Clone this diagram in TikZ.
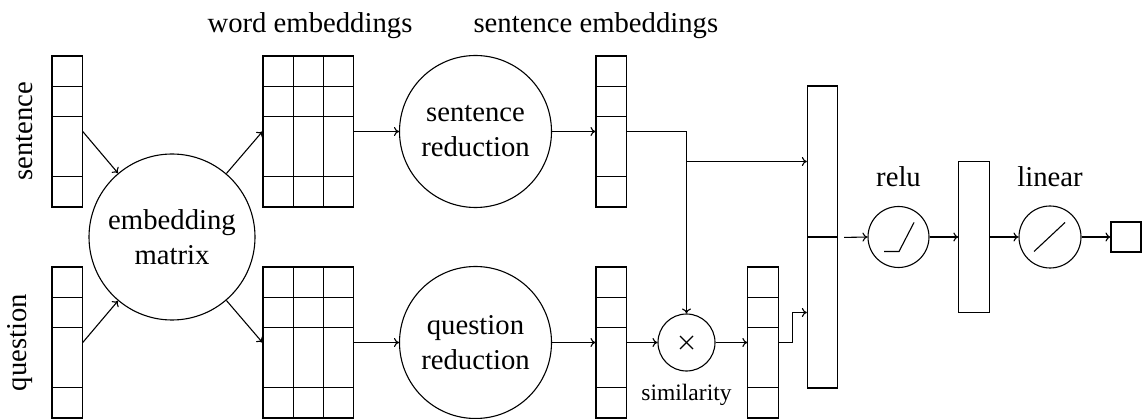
\documentclass[tikz,border=0pt]{standalone}
\usepackage{fontspec}
\setmainfont{Liberation Serif}
\usetikzlibrary{calc,arrows.meta}
\newcommand\mainsz{\fontsize{28.7}{35}\selectfont}
\newcommand\smallsz{\fontsize{23.5}{28}\selectfont}
\def\U{30.2pt}
\newcommand\rowlines{\foreach \k in {1,2,4}{\draw ([yshift={-\k*\U}]path picture bounding box.north west) -- ([yshift={-\k*\U}]path picture bounding box.north east);}}
\newcommand\collines{\foreach \k in {1,2}{\draw ([xshift={\k*\U}]path picture bounding box.north west) -- ([xshift={\k*\U}]path picture bounding box.south west);}}
\tikzset{
  >={To[length=5pt,width=9pt]},
  cellbox/.style={draw, rectangle, inner sep=0pt, minimum width=\U, minimum height=5*\U},
  vecbox/.style={cellbox, path picture={\rowlines}},
  matbox/.style={cellbox, minimum width=3*\U, path picture={\rowlines\collines}},
  circ/.style={draw, circle, inner sep=0pt, align=center, font=\mainsz},
  lbl/.style={font=\mainsz, inner sep=0pt},
  sidelbl/.style={font=\mainsz, inner sep=0pt, rotate=90, anchor=south},
}
\begin{document}
\begin{tikzpicture}[x=1pt,y=-1pt,line width=1.1pt]
\useasboundingbox (0,0) rectangle (1142,419);

% headers
\node[lbl, anchor=base west] (hw) at (207,33) {word embeddings};
\node[lbl, anchor=base west] (hs) at (473,33) {sentence embeddings};

% side labels
\node[sidelbl] (ls) at (33,131.5) {sentence};
\node[sidelbl] (lq) at (33,342.5) {question};

% input vectors
\node[vecbox] (sv) at (67.1,131.5) {};
\node[vecbox] (qv) at (67.1,342.5) {};

% embedding matrix
\node[circ, minimum size=166pt] (emb) at (172,237) {embedding\\matrix};

% word embeddings
\node[matbox] (sw) at (308.3,131.5) {};
\node[matbox] (qw) at (308.3,342.5) {};

% reductions
\node[circ, minimum size=152pt] (sred) at (475.5,131.5) {sentence\\reduction};
\node[circ, minimum size=152pt] (qred) at (475.5,342.5) {question\\reduction};

% sentence embeddings
\node[vecbox] (se) at (611.1,131.5) {};
\node[vecbox] (qe) at (611.1,342.5) {};

% similarity
\node[circ, minimum size=57pt] (mult) at (686.5,342.5) {};
\draw ($(mult.center)+(-6.5,-6.5)$) -- ++(13,13);
\draw ($(mult.center)+(-6.5,6.5)$) -- ++(13,-13);
\node[font=\smallsz, inner sep=0pt, anchor=base] (lsim) at (686.5,400) {similarity};
\node[vecbox] (sim) at (763,342.5) {};

% concatenated bar
\node[cellbox] (bartop) at (822.5,161.5) {};
\node[cellbox] (barbot) at (822.5,312.5) {};

% relu
\node[circ, minimum size=61pt] (relu) at (898.5,237) {};
\node[lbl, anchor=base] (lrelu) at (898.5,187) {relu};
\draw ($(relu.center)+(-14.5,14.5)$) -- ++(15,0) -- ++(15,-29);

% hidden vector
\node[cellbox] (bar2) at (974,237) {};

% linear
\node[circ, minimum size=62pt] (lin) at (1050,237) {};
\node[lbl, anchor=base] (llin) at (1050,187) {linear};
\draw ($(lin.center)+(-16,14.5)$) -- ++(31,-29);

% output
\node[draw, rectangle, inner sep=0pt, minimum size=30pt] (out) at (1126,237) {};

% connectors
\draw[->] (sv.east) -- (emb);
\draw[->] (qv.east) -- (emb);
\draw[->] (emb) -- (sw.west);
\draw[->] (emb) -- (qw.west);
\draw[->] (sw.east) -- (sred.west);
\draw[->] (qw.east) -- (qred.west);
\draw[->] (sred.east) -- (se.west);
\draw[->] (qred.east) -- (qe.west);
\draw[->] (se.east) -| (mult.north);
\draw[->] (se.east) -- (se.east -| mult.north) |- (bartop.west);
\draw[->] (qe.east) -- (mult.west);
\draw[->] (mult.east) -- (sim.west);
\draw[->] (sim.east) -- ++(14,0) |- (barbot.west);
\draw[->, shorten <=6pt] (bartop.south east) -- (relu.west);
\draw[->] (relu.east) -- (bar2.west);
\draw[->] (bar2.east) -- (lin.west);
\draw[->] (lin.east) -- (out.west);
\end{tikzpicture}
\end{document}
